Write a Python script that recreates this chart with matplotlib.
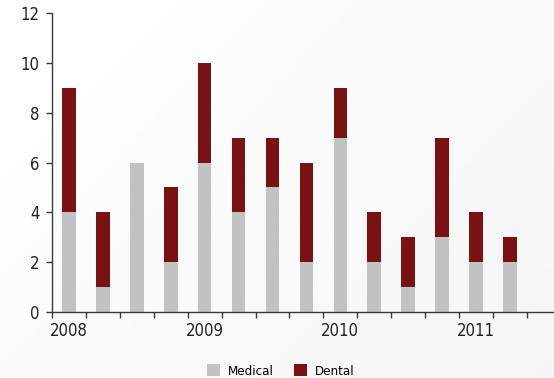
import numpy as np
import matplotlib.pyplot as plt
from matplotlib.patches import Patch

# data (quarterly counts)
quarters = ['2008', '', '', '', '2009', '', '', '', '2010', '', '', '', '2011', '']
medical = [4, 1, 6, 2, 6, 4, 5, 2, 7, 2, 1, 3, 2, 2]
dental = [5, 3, 0, 3, 4, 3, 2, 4, 2, 2, 2, 4, 2, 1]
yticks = [0, 2, 4, 6, 8, 10, 12]

medical_color = '#c1c2c3'
dental_color = '#7a1113'
axis_color = '#3a3a3a'

# condensed face to mimic the narrow font of the original
plt.rcParams['font.family'] = ['DejaVu Sans']
plt.rcParams['font.stretch'] = 'condensed'

W, H = 554, 378
fig = plt.figure(figsize=(W / 100, H / 100), dpi=100)

# soft gradient background
bg = fig.add_axes([0, 0, 1, 1], zorder=-10)
gx, gy = np.meshgrid(np.linspace(0, 1, 200), np.linspace(0, 1, 200))
grad = 1.0 - 0.04 * (0.6 * gx + 0.4 * gy)
bg.imshow(grad, cmap='gray', vmin=0, vmax=1, aspect='auto', extent=[0, 1, 0, 1])
bg.axis('off')

step = (493 - 52) / 13
ax = fig.add_axes([52 / W, 66 / H, 15 * step / W, (312 - 13) / H])
ax.patch.set_alpha(0)

x = np.arange(len(medical))
ax.bar(x, medical, width=0.4, color=medical_color, label='Medical')
ax.bar(x, dental, width=0.4, bottom=medical, color=dental_color, label='Dental')

ax.set_xlim(-0.5, 14.5)
ax.set_ylim(0, 12)
ax.set_yticks(yticks)
ax.tick_params(axis='y', direction='out', length=4, width=1, color=axis_color,
               labelsize=12, labelcolor='#222222', pad=5)

# ticks on category boundaries, year labels centred under bars
ax.set_xticks(np.arange(-0.5, 14.5, 1))
ax.set_xticklabels([])
ax.set_xticks(x, minor=True)
ax.set_xticklabels(quarters, minor=True)
ax.tick_params(axis='x', which='major', direction='out', length=4, width=1, color=axis_color)
ax.tick_params(axis='x', which='minor', length=0, labelsize=12, labelcolor='#222222', pad=7)

for side in ['top', 'right']:
    ax.spines[side].set_visible(False)
for side in ['left', 'bottom']:
    ax.spines[side].set_color(axis_color)
    ax.spines[side].set_linewidth(1)

handles = [Patch(facecolor=medical_color, label='Medical'),
           Patch(facecolor=dental_color, label='Dental')]
fig.legend(handles=handles, loc='center', bbox_to_anchor=(281 / W, 1 - 371 / H),
           ncol=2, frameon=False, fontsize=9.5, handlelength=1.0, handleheight=1.0,
           handletextpad=0.6, columnspacing=1.5)

fig.savefig('out.png', dpi=100)
